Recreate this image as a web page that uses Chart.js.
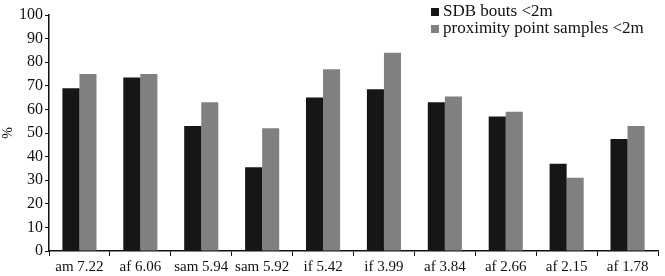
<!DOCTYPE html>
<html>
<head>
<meta charset="utf-8">
<script src="https://cdn.jsdelivr.net/npm/chart.js@4"></script>
<style>
  html, body { margin: 0; padding: 0; background: #fff; }
  #wrap { width: 665px; height: 276px; position: relative; }
</style>
</head>
<body>
<div id="wrap"><canvas id="chart"></canvas></div>
<script>
// Categories and values
const categories = ['am 7.22', 'af 6.06', 'sam 5.94', 'sam 5.92', 'if 5.42', 'if 3.99', 'af 3.84', 'af 2.66', 'af 2.15', 'af 1.78'];
const sdbBouts = [69, 73.5, 53, 35.5, 65, 68.5, 63, 57, 37, 47.5];
const proximitySamples = [75, 75, 63, 52, 77, 84, 65.5, 59, 31, 53];
const seriesNames = ['SDB bouts <2m', 'proximity point samples <2m'];

const FONT = '"Liberation Serif", "Times New Roman", serif';

// Legend drawn inside the plot area, top right, as in the figure
const cornerLegend = {
    id: 'cornerLegend',
    afterDraw(chart) {
        const ctx = chart.ctx;
        ctx.save();
        ctx.font = '17px ' + FONT;
        ctx.textBaseline = 'middle';
        chart.data.datasets.forEach(function(ds, i) {
            const y = 12 + i * 17;
            ctx.fillStyle = ds.backgroundColor;
            ctx.fillRect(431, y - 4, 8, 8);
            ctx.fillStyle = '#111';
            ctx.fillText(ds.label, 443, y);
        });
        ctx.restore();
    }
};

new Chart(document.getElementById('chart'), {
    type: 'bar',
    data: {
        labels: categories,
        datasets: [{
            label: seriesNames[0],
            data: sdbBouts,
            backgroundColor: '#161616',
            categoryPercentage: 0.56,
            barPercentage: 1.0
        }, {
            label: seriesNames[1],
            data: proximitySamples,
            backgroundColor: '#808080',
            categoryPercentage: 0.56,
            barPercentage: 1.0
        }]
    },
    options: {
        responsive: true,
        maintainAspectRatio: false,
        animation: false,
        layout: { padding: { top: 15, right: 7, left: 0, bottom: 0 } },
        scales: {
            x: {
                grid: { display: true, drawOnChartArea: false, drawTicks: true, tickLength: 5, color: '#111', offset: true },
                border: { color: '#111', width: 1.5 },
                ticks: { color: '#111', font: { family: FONT, size: 15 }, padding: 2, maxRotation: 0, autoSkip: false },
                afterFit(scale) { scale.height = 25; }
            },
            y: {
                min: 0,
                max: 100,
                ticks: { stepSize: 10, color: '#111', font: { family: FONT, size: 16 }, padding: 2 },
                grid: { display: true, drawOnChartArea: false, drawTicks: true, tickLength: 4, color: '#111' },
                border: { color: '#111', width: 1.5 },
                title: { display: true, text: '%', color: '#111', font: { family: FONT, size: 14 }, padding: 0 },
                afterFit(scale) { scale.width = 49; }
            }
        },
        plugins: {
            legend: { display: false },
            tooltip: { enabled: false }
        }
    },
    plugins: [cornerLegend]
});
</script>
</body>
</html>
